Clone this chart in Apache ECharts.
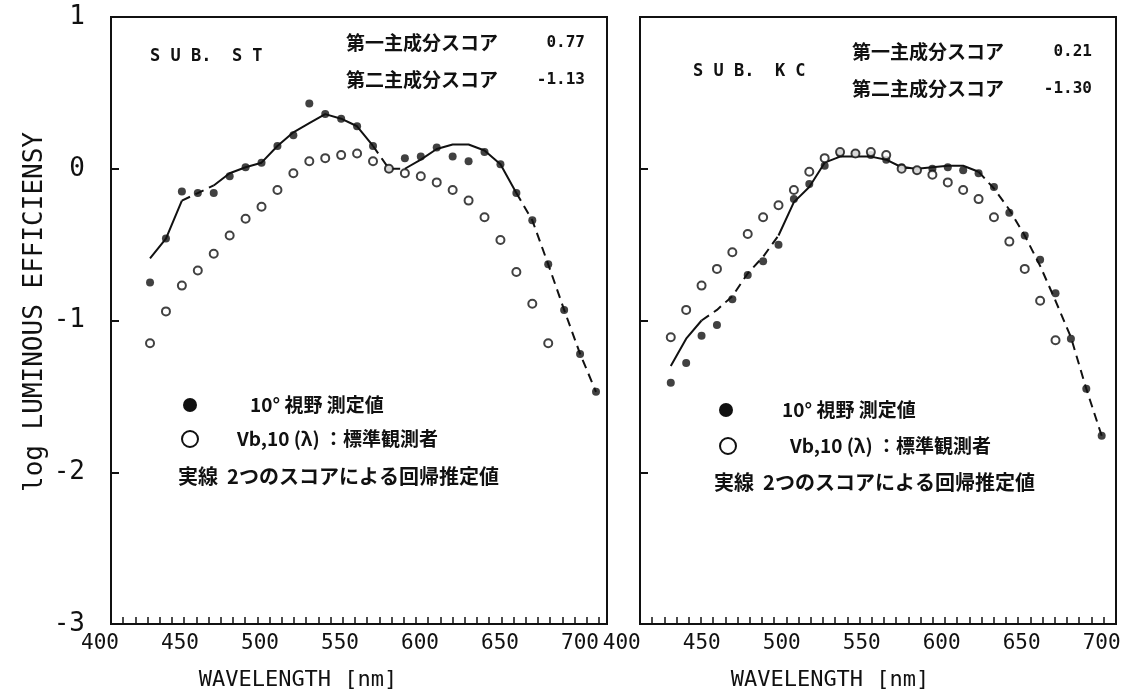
<!DOCTYPE html>
<html><head><meta charset="utf-8">
<script src="https://cdn.jsdelivr.net/npm/echarts@6/dist/echarts.min.js"></script>
<style>html,body{margin:0;padding:0;background:#fff}#c{width:1126px;height:697px}</style>
</head><body><div id="c"></div>
<script>
// ---- data ----
const wavelengths = [420,430,440,450,460,470,480,490,500,510,520,530,540,550,560,570,580,590,600,610,620,630,640,650,660,670,680,690,700];
const stdWavelengths = [420,430,440,450,460,470,480,490,500,510,520,530,540,550,560,570,580,590,600,610,620,630,640,650,660,670];
const xTickLabels = [400,450,500,550,600,650,700];
const yTickLabels = [1,0,-1,-2,-3];

// SUB. ST
const stMeasured = [-0.75,-0.46,-0.15,-0.16,-0.16,-0.05,0.01,0.04,0.15,0.22,0.43,0.36,0.33,0.28,0.15,0.00,0.07,0.08,0.14,0.08,0.05,0.11,0.03,-0.16,-0.34,-0.63,-0.93,-1.22,-1.47];
const stStandard = [-1.15,-0.94,-0.77,-0.67,-0.56,-0.44,-0.33,-0.25,-0.14,-0.03,0.05,0.07,0.09,0.10,0.05,0.00,-0.03,-0.05,-0.09,-0.14,-0.21,-0.32,-0.47,-0.68,-0.89,-1.15];
const stFit = [-0.59,-0.46,-0.21,-0.16,-0.11,-0.03,0.01,0.04,0.15,0.24,0.30,0.36,0.33,0.28,0.15,0.00,0.00,0.06,0.13,0.16,0.16,0.12,0.03,-0.16,-0.34,-0.63,-0.93,-1.22,-1.47];
const stScores = ['0.77','-1.13'];

// SUB. KC
const kcMeasured = [-1.41,-1.28,-1.10,-1.03,-0.86,-0.70,-0.61,-0.50,-0.20,-0.10,0.02,0.10,0.10,0.09,0.06,0.01,-0.01,0.00,0.01,-0.01,-0.03,-0.12,-0.29,-0.44,-0.60,-0.82,-1.12,-1.45,-1.76];
const kcStandard = [-1.11,-0.93,-0.77,-0.66,-0.55,-0.43,-0.32,-0.24,-0.14,-0.02,0.07,0.11,0.10,0.11,0.09,0.00,-0.01,-0.04,-0.09,-0.14,-0.20,-0.32,-0.48,-0.66,-0.87,-1.13];
const kcFit = [-1.30,-1.12,-1.00,-0.93,-0.84,-0.69,-0.58,-0.44,-0.22,-0.12,0.04,0.08,0.08,0.08,0.06,0.01,0.00,0.01,0.02,0.02,-0.02,-0.13,-0.27,-0.44,-0.64,-0.87,-1.11,-1.45,-1.76];
const kcScores = ['0.21','-1.30'];

// ---- styling (segment ranges of the regression curve, by point index) ----
const stSolid = [[0,2],[4,14],[16,23]];
const stDashed = [[2,4],[14,16],[23,28]];
const kcSolid = [[0,2],[7,15],[16,20]];
const kcDashed = [[2,7],[15,16],[20,28]];

const INK = '#111';
const MONO = '"DejaVu Sans Mono", "Liberation Mono", monospace';
const JP = '"Noto Sans CJK JP", "Noto Sans", sans-serif';

function pts(xs, ys){ return ys.map((v,i)=>[xs[i], v]); }
function masked(xs, ys, ranges){
  return ys.map((v,i)=>{
    const on = ranges.some(r=>i>=r[0] && i<=r[1]);
    return [xs[i], on ? v : null];
  });
}
function tickList(min,max,step){ const a=[]; for(let v=min+step; v<max-0.5; v+=step) a.push(v); return a; }

// plot frames and the (typewritten) wavelength label scales
const panels = [
  {left:111, width:496, xmin:395.5, xmax:706.9, measured:stMeasured, standard:stStandard, fit:stFit, solid:stSolid, dashed:stDashed, showY:true,
   lab:{left:80, width:520, min:387.5, max:712.5}},
  {left:640, width:476, xmin:400, xmax:709.3, measured:kcMeasured, standard:kcStandard, fit:kcFit, solid:kcSolid, dashed:kcDashed, showY:false,
   lab:{left:617, width:499, min:397, max:709}}
];

const grid = [], xAxis = [], yAxis = [], series = [];
panels.forEach((p, k)=>{
  grid.push({left:p.left, top:17, width:p.width, height:607, show:true, borderColor:INK, borderWidth:2, backgroundColor:'transparent'});
  const step = 12.2 * (p.xmax - p.xmin) / p.width;
  xAxis.push({gridIndex:k, type:'value', min:p.xmin, max:p.xmax,
    splitLine:{show:false},
    axisLine:{show:true, onZero:false, lineStyle:{color:INK, width:2}},
    axisTick:{show:true, inside:true, length:7, lineStyle:{color:INK, width:1.5}, customValues: tickList(p.xmin, p.xmax, step)},
    axisLabel:{show:false}
  });
  yAxis.push({gridIndex:k, type:'value', min:-3, max:1, interval:1,
    splitLine:{show:false},
    axisLine:{show:true, lineStyle:{color:INK, width:2}},
    axisTick:{show:true, inside:true, length:8, lineStyle:{color:INK, width:2}},
    axisLabel:{show:p.showY, color:INK, fontFamily:MONO, fontSize:26, margin:26,
      formatter:(v)=> yTickLabels.indexOf(v) >= 0 ? String(v) : ''}
  });
  series.push({type:'line', xAxisIndex:k, yAxisIndex:k, data:masked(wavelengths, p.fit, p.solid), showSymbol:false, symbol:'none', connectNulls:false, lineStyle:{color:INK, width:2, type:'solid'}, z:2, silent:true});
  series.push({type:'line', xAxisIndex:k, yAxisIndex:k, data:masked(wavelengths, p.fit, p.dashed), showSymbol:false, symbol:'none', connectNulls:false, lineStyle:{color:INK, width:2, type:[9,6]}, z:2, silent:true});
  series.push({type:'scatter', xAxisIndex:k, yAxisIndex:k, data:pts(wavelengths, p.measured), symbol:'circle', symbolSize:8, itemStyle:{color:INK}, z:3});
  series.push({type:'scatter', xAxisIndex:k, yAxisIndex:k, data:pts(stdWavelengths, p.standard), symbol:'circle', symbolSize:8, itemStyle:{color:'#fff', borderColor:INK, borderWidth:2}, z:3});
});
// label-only axes (the printed wavelength numbers sit slightly off the plotted scale)
panels.forEach((p, k)=>{
  const gi = grid.length;
  grid.push({left:p.lab.left, top:17, width:p.lab.width, height:607, show:false});
  xAxis.push({gridIndex:gi, type:'value', min:p.lab.min, max:p.lab.max,
    splitLine:{show:false}, axisLine:{show:false}, axisTick:{show:false},
    axisLabel:{show:true, customValues:xTickLabels, color:INK, fontFamily:MONO, fontSize:21, margin:9, hideOverlap:false}
  });
  yAxis.push({gridIndex:gi, type:'value', min:-3, max:1, show:false});
});

function txt(x, y, text, font, align, extra){
  return Object.assign({type:'text', x:x, y:y, z:10, style:{text:text, font:font, fill:INK, textAlign:align||'left', textVerticalAlign:'middle', align:align||'left', verticalAlign:'middle'}}, extra||{});
}
const graphic = [
  txt(35, 312, 'log LUMINOUS EFFICIENSY', '26px ' + MONO, 'center', {rotation:Math.PI/2}),
  txt(298, 680, 'WAVELENGTH [nm]', '22px ' + MONO, 'center'),
  txt(830, 680, 'WAVELENGTH [nm]', '22px ' + MONO, 'center'),
  // panel ST annotations
  txt(150, 57, 'S U B.  S T', 'bold 17px ' + MONO),
  txt(346, 43, '第一主成分スコア', 'bold 19px ' + JP),
  txt(585, 43, stScores[0], 'bold 16px ' + MONO, 'right'),
  txt(346, 80, '第二主成分スコア', 'bold 19px ' + JP),
  txt(585, 80, stScores[1], 'bold 16px ' + MONO, 'right'),
  // panel KC annotations
  txt(693, 72, 'S U B.  K C', 'bold 17px ' + MONO),
  txt(852, 52, '第一主成分スコア', 'bold 19px ' + JP),
  txt(1092, 52, kcScores[0], 'bold 16px ' + MONO, 'right'),
  txt(852, 89, '第二主成分スコア', 'bold 19px ' + JP),
  txt(1092, 89, kcScores[1], 'bold 16px ' + MONO, 'right'),
  // legend ST
  {type:'circle', shape:{cx:190, cy:405, r:7}, style:{fill:INK}, z:10},
  txt(250, 405, '10° 視野 測定値', 'bold 19px ' + JP),
  {type:'circle', shape:{cx:190, cy:439, r:8}, style:{fill:'#fff', stroke:INK, lineWidth:2}, z:10},
  txt(237, 439, 'Vb,10 (λ) ：標準観測者', 'bold 19px ' + JP),
  txt(178, 476, '実線  2つのスコアによる回帰推定値', 'bold 20px ' + JP),
  // legend KC
  {type:'circle', shape:{cx:726, cy:410, r:7}, style:{fill:INK}, z:10},
  txt(782, 410, '10° 視野 測定値', 'bold 19px ' + JP),
  {type:'circle', shape:{cx:728, cy:446, r:8}, style:{fill:'#fff', stroke:INK, lineWidth:2}, z:10},
  txt(790, 446, 'Vb,10 (λ) ：標準観測者', 'bold 19px ' + JP),
  txt(714, 482, '実線  2つのスコアによる回帰推定値', 'bold 20px ' + JP)
];

const chart = echarts.init(document.getElementById('c'), null, {renderer:'canvas'});
chart.setOption({animation:false, backgroundColor:'#fff', grid, xAxis, yAxis, series, graphic});
</script></body></html>
